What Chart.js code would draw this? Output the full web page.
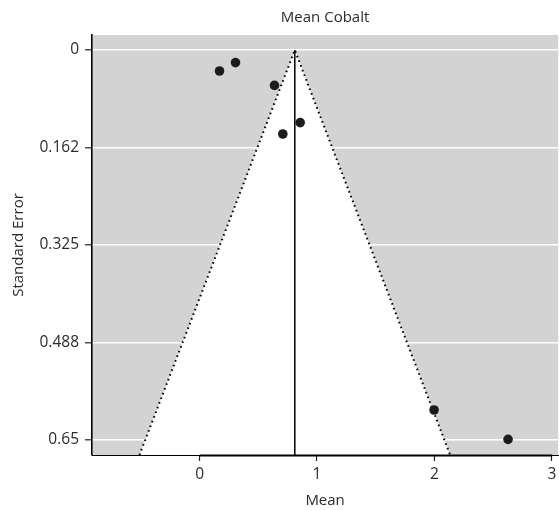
<!DOCTYPE html>
<html>
<head>
<meta charset="utf-8">
<title>Mean Cobalt</title>
<script src="https://cdn.jsdelivr.net/npm/chart.js@4/dist/chart.umd.min.js"></script>
<style>
  html, body { margin: 0; padding: 0; background: #ffffff; overflow: hidden; }
  #wrap { width: 559px; height: 510px; overflow: hidden; }
</style>
</head>
<body>
<div id="wrap"><canvas id="funnel" width="563" height="510"></canvas></div>
<script>
// Study-level estimates for cobalt: mean and its standard error
const studyMeans = [0.170, 0.306, 0.638, 0.709, 0.857, 1.997, 2.627];
const studySE    = [0.035, 0.021, 0.059, 0.140, 0.121, 0.600, 0.649];

// Pooled mean (vertical reference line) and 95% critical value for the funnel
const pooledMean = 0.811;
const zCrit = 1.96;

// Axis extents and ticks
const xRange = [-0.916, 3.054];
const seRange = [-0.025, 0.675];
const xTickValues = [0, 1, 2, 3];
const yTickValues = [0, 0.1625, 0.325, 0.4875, 0.65];
const yTickLabels = ['0', '0.162', '0.325', '0.488', '0.65'];

const FONT = "'Open Sans', 'DejaVu Sans', sans-serif";
const TEXT = '#2b2b2b';

// Funnel outline: apex at the pooled mean, widening to the bottom of the SE axis
const seBottom = seRange[1];
const funnelPts = [
  { x: pooledMean - zCrit * seBottom, y: seBottom },
  { x: pooledMean, y: 0 },
  { x: pooledMean + zCrit * seBottom, y: seBottom }
];
const meanLine = [{ x: pooledMean, y: 0 }, { x: pooledMean, y: seBottom }];
const studyPts = studyMeans.map((m, i) => ({ x: m, y: studySE[i] }));

// Grey panel behind everything
const panelBackground = {
  id: 'panelBackground',
  beforeDraw(chart) {
    const { ctx, chartArea: a } = chart;
    ctx.save();
    ctx.fillStyle = '#d3d3d3';
    ctx.fillRect(a.left, a.top, a.right - a.left, a.bottom - a.top);
    ctx.restore();
  }
};

// Heavier axis segment spanning the first to last x tick
const xAxisSegment = {
  id: 'xAxisSegment',
  afterDraw(chart) {
    const { ctx, chartArea: a, scales: { x } } = chart;
    const x0 = x.getPixelForValue(xTickValues[0]);
    const x1 = x.getPixelForValue(xTickValues[xTickValues.length - 1]);
    ctx.save();
    ctx.strokeStyle = '#000';
    ctx.lineWidth = 2;
    ctx.beginPath();
    ctx.moveTo(x0, a.bottom + 0.5);
    ctx.lineTo(x1, a.bottom + 0.5);
    ctx.stroke();
    ctx.restore();
  }
};

new Chart(document.getElementById('funnel'), {
  type: 'scatter',
  data: {
    datasets: [
      {
        label: 'Studies',
        data: studyPts,
        backgroundColor: '#1c1c1c',
        borderWidth: 0,
        pointRadius: 4.8,
        pointHoverRadius: 4.8,
        order: 0
      },
      {
        type: 'line',
        label: 'Pooled mean',
        data: meanLine,
        borderColor: '#000',
        borderWidth: 1.5,
        pointRadius: 0,
        fill: false,
        order: 1
      },
      {
        type: 'line',
        label: '95% limits',
        data: funnelPts,
        borderColor: '#000',
        borderWidth: 2,
        borderDash: [1.6, 3.4],
        pointRadius: 0,
        tension: 0,
        fill: { value: seBottom },
        backgroundColor: '#ffffff',
        order: 2
      }
    ]
  },
  options: {
    responsive: false,
    animation: false,
    devicePixelRatio: 1,
    layout: { padding: { left: 0, right: 0, top: 0, bottom: 0 } },
    plugins: {
      legend: { display: false },
      tooltip: { enabled: false },
      title: {
        display: true,
        text: 'Mean Cobalt',
        fullSize: false,
        color: TEXT,
        font: { family: FONT, size: 15, weight: 'normal' },
        padding: { top: 9, bottom: 8 }
      }
    },
    scales: {
      x: {
        type: 'linear',
        min: xRange[0],
        max: xRange[1],
        afterBuildTicks(scale) { scale.ticks = xTickValues.map(v => ({ value: v })); },
        afterFit(scale) { scale.height = 55; scale.paddingLeft = 0; scale.paddingRight = 0; },
        ticks: { color: TEXT, font: { family: FONT, size: 15.5 }, padding: 4, maxRotation: 0 },
        grid: { drawOnChartArea: false, drawTicks: true, tickLength: 6, tickColor: '#222', tickWidth: 1.2 },
        border: { display: true, color: '#000', width: 1, z: 1 },
        title: { display: true, text: 'Mean', color: TEXT, font: { family: FONT, size: 15 }, padding: { top: 0, bottom: 0 } }
      },
      y: {
        type: 'linear',
        reverse: true,
        min: seRange[0],
        max: seRange[1],
        afterBuildTicks(scale) { scale.ticks = yTickValues.map(v => ({ value: v })); },
        afterFit(scale) { scale.width = 92; scale.paddingTop = 0; scale.paddingBottom = 0; },
        ticks: {
          color: TEXT,
          font: { family: FONT, size: 15.5 },
          padding: 6,
          callback(value, index) { return yTickLabels[index]; }
        },
        grid: { color: '#ffffff', lineWidth: 1.6, drawTicks: true, tickLength: 7, tickColor: '#222', tickWidth: 1.2 },
        border: { display: true, color: '#000', width: 1.6, z: 1 },
        title: { display: true, text: 'Standard Error', color: TEXT, font: { family: FONT, size: 15 }, padding: { top: 10, bottom: 0 } }
      }
    }
  },
  plugins: [panelBackground, xAxisSegment]
});
</script>
</body>
</html>
